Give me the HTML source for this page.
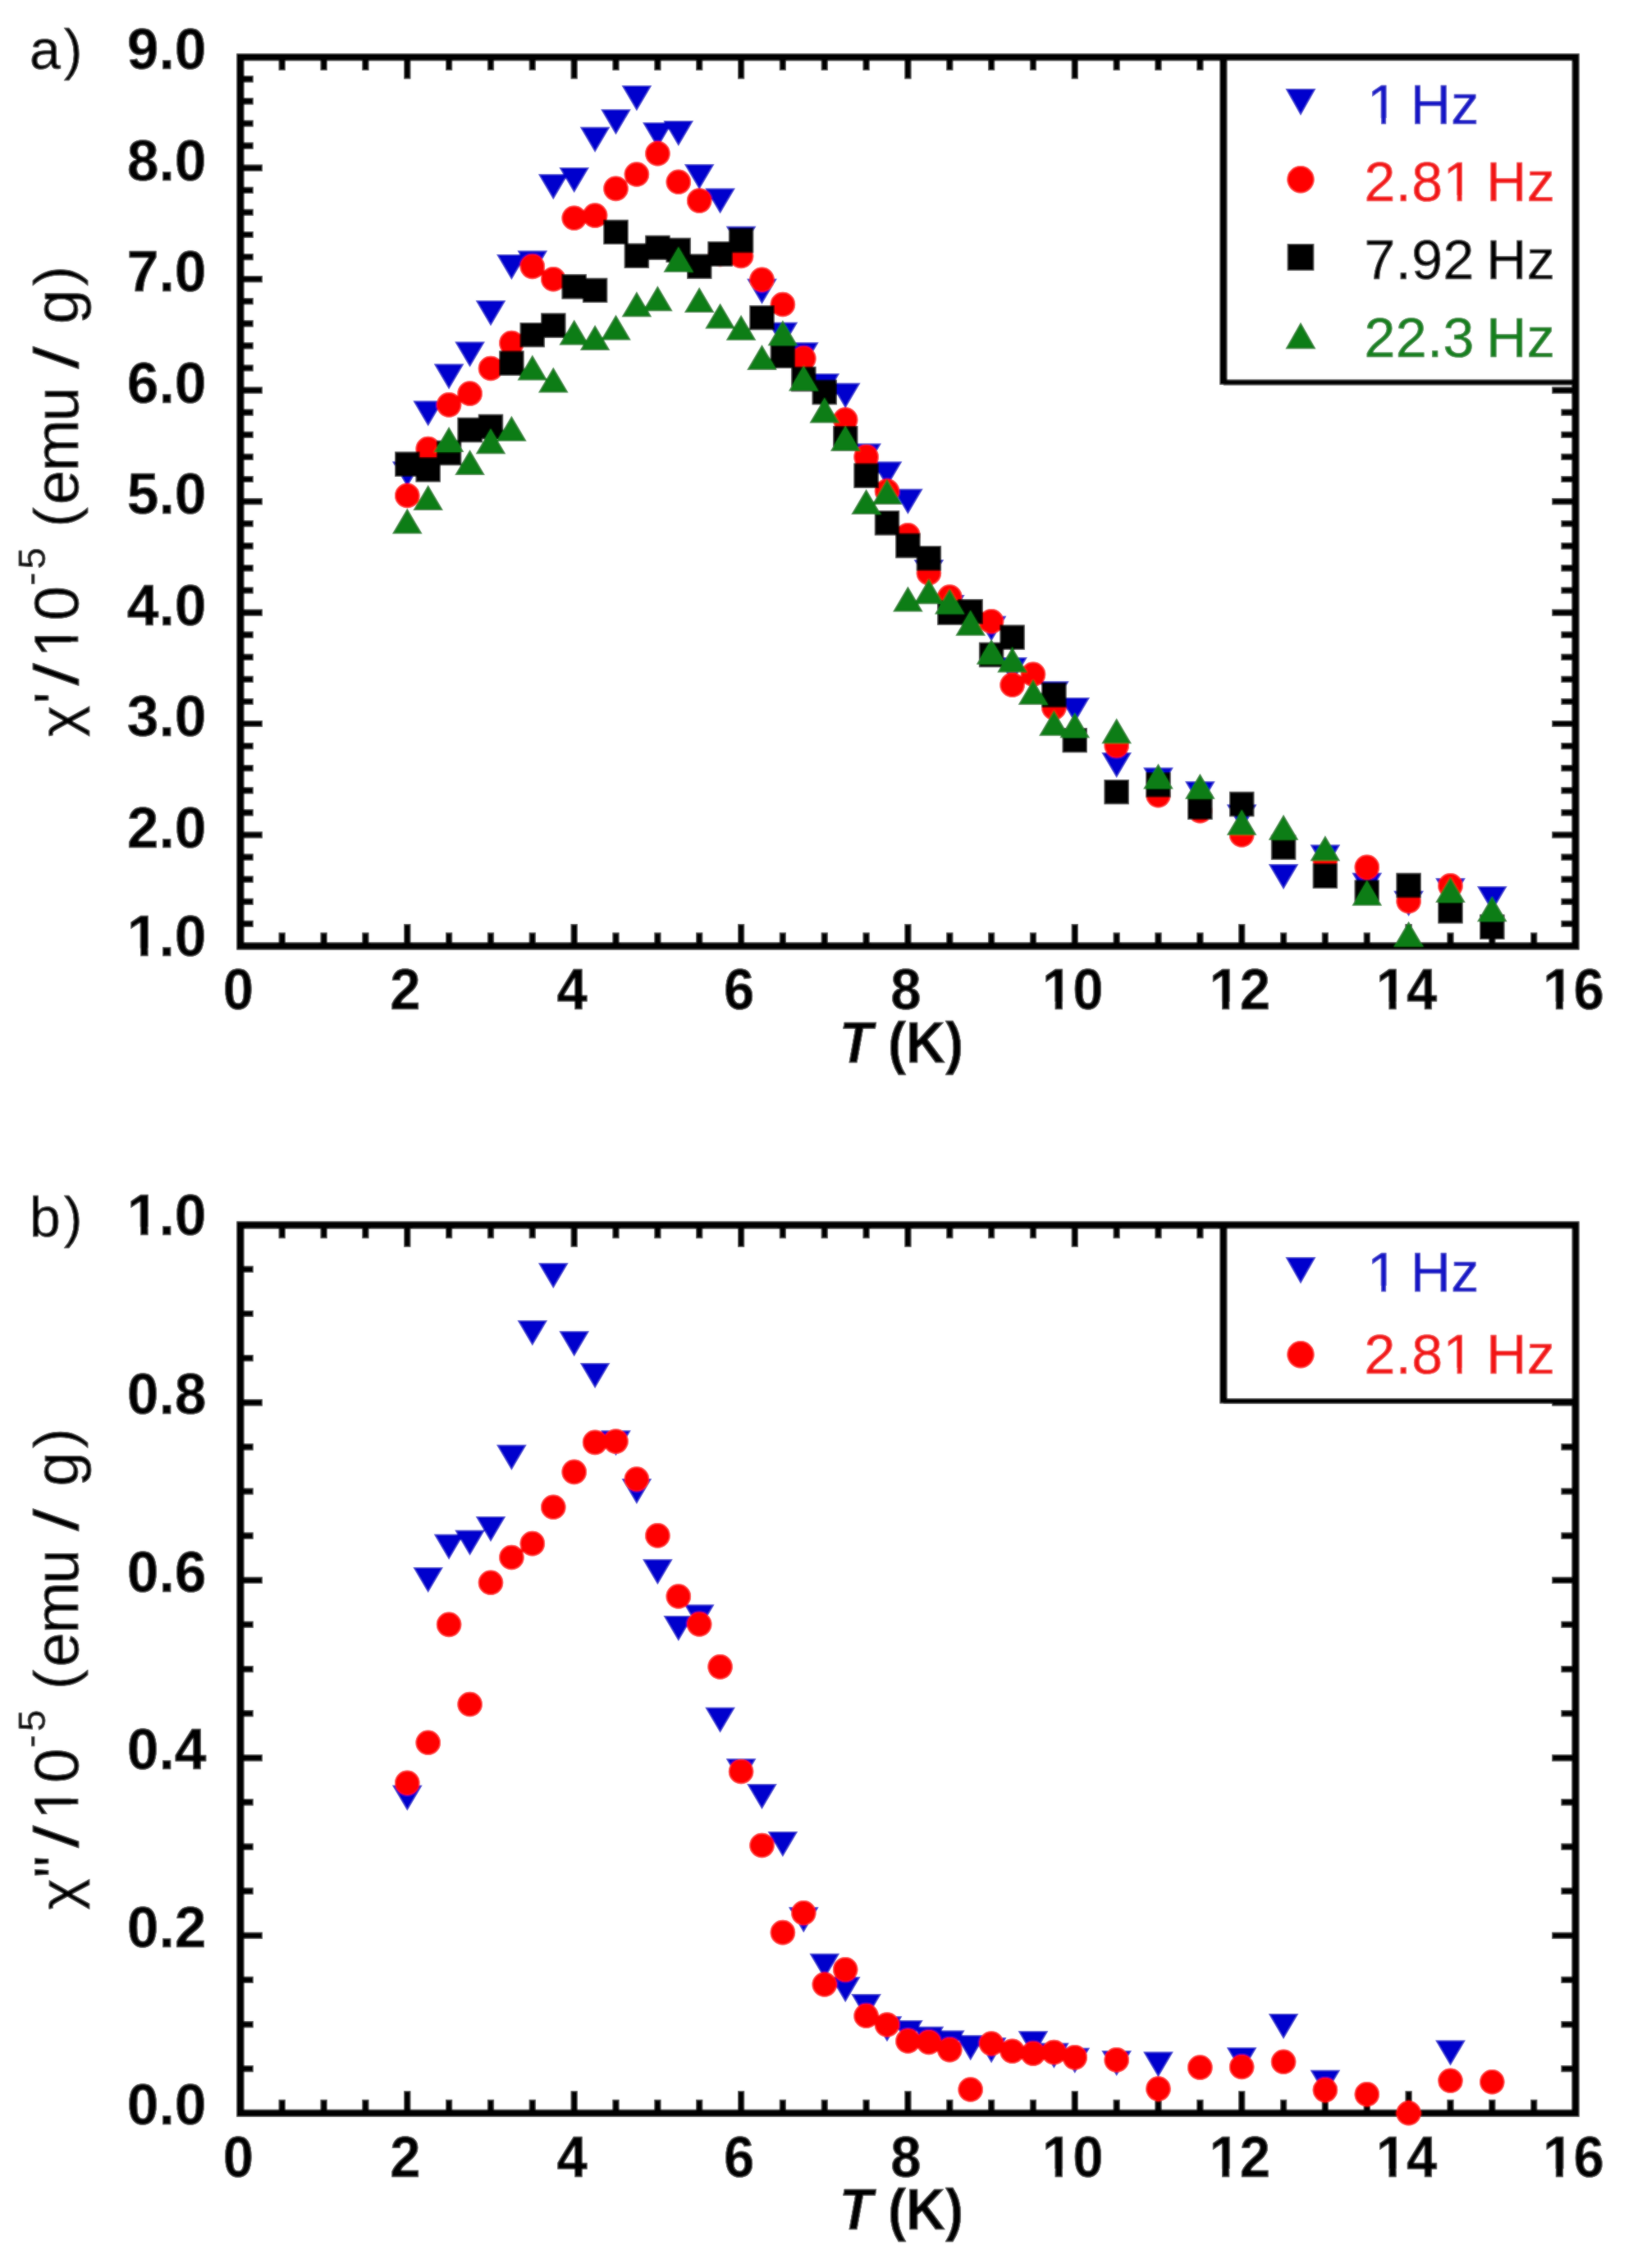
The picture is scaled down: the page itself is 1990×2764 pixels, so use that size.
<!DOCTYPE html>
<html lang="en">
<head>
<meta charset="utf-8">
<title>AC susceptibility versus temperature</title>
<style>
html,body{margin:0;padding:0;background:#fff}
svg{display:block}
text{font-family:"Liberation Sans",sans-serif;font-size:68px;fill:#000;font-kerning:none;stroke:#000;stroke-width:.7px;stroke-linejoin:round}
.m{fill:#fff}
.lt{letter-spacing:.5px;word-spacing:-5px}
.b{font-weight:bold;font-size:71px;stroke-width:.5px}
.yl{font-size:76px}
.tk{stroke:#000;stroke-width:8.2;fill:none}
.fr{stroke:#000;stroke-width:8.9;fill:none}
.lg{stroke:#000;stroke-width:9.2;fill:none}
.lg2{stroke:#000;stroke-width:6.8;fill:none}
</style>
</head>
<body>
<svg width="1990" height="2764" viewBox="0 0 1990 2764">
<defs><filter id="soft" x="0" y="0" width="1990" height="2764" filterUnits="userSpaceOnUse"><feGaussianBlur stdDeviation="0.85" result="b"/><feComposite in="SourceGraphic" in2="b" operator="arithmetic" k1="0" k2="0.55" k3="0.45" k4="0"/></filter></defs>
<g filter="url(#soft)">
<rect width="1990" height="2764" fill="#fff"/>
<g id="plot-a">
<path class="tk" d="M343.7 69.2v16.5M343.7 1153v-16.5M394.6 69.2v16.5M394.6 1153v-16.5M445.4 69.2v16.5M445.4 1153v-16.5M496.3 69.2v27M496.3 1153v-27M547.1 69.2v16.5M547.1 1153v-16.5M598 69.2v16.5M598 1153v-16.5M648.8 69.2v16.5M648.8 1153v-16.5M699.7 69.2v27M699.7 1153v-27M750.5 69.2v16.5M750.5 1153v-16.5M801.4 69.2v16.5M801.4 1153v-16.5M852.2 69.2v16.5M852.2 1153v-16.5M903.1 69.2v27M903.1 1153v-27M953.9 69.2v16.5M953.9 1153v-16.5M1004.8 69.2v16.5M1004.8 1153v-16.5M1055.6 69.2v16.5M1055.6 1153v-16.5M1106.4 69.2v27M1106.4 1153v-27M1157.3 69.2v16.5M1157.3 1153v-16.5M1208.1 69.2v16.5M1208.1 1153v-16.5M1259 69.2v16.5M1259 1153v-16.5M1309.8 69.2v27M1309.8 1153v-27M1360.7 69.2v16.5M1360.7 1153v-16.5M1411.5 69.2v16.5M1411.5 1153v-16.5M1462.4 69.2v16.5M1462.4 1153v-16.5M1513.2 69.2v27M1513.2 1153v-27M1564.1 69.2v16.5M1564.1 1153v-16.5M1614.9 69.2v16.5M1614.9 1153v-16.5M1665.8 69.2v16.5M1665.8 1153v-16.5M1716.6 69.2v27M1716.6 1153v-27M1767.5 69.2v16.5M1767.5 1153v-16.5M1818.3 69.2v16.5M1818.3 1153v-16.5M1869.2 69.2v16.5M1869.2 1153v-16.5M292.9 1125.9h15.8M1920 1125.9h-17.6M292.9 1098.8h15.8M1920 1098.8h-17.6M292.9 1071.7h15.8M1920 1071.7h-17.6M292.9 1044.6h15.8M1920 1044.6h-17.6M292.9 1017.5h27M1920 1017.5h-28.8M292.9 990.4h15.8M1920 990.4h-17.6M292.9 963.3h15.8M1920 963.3h-17.6M292.9 936.2h15.8M1920 936.2h-17.6M292.9 909.1h15.8M1920 909.1h-17.6M292.9 882h27M1920 882h-28.8M292.9 855h15.8M1920 855h-17.6M292.9 827.9h15.8M1920 827.9h-17.6M292.9 800.8h15.8M1920 800.8h-17.6M292.9 773.7h15.8M1920 773.7h-17.6M292.9 746.6h27M1920 746.6h-28.8M292.9 719.5h15.8M1920 719.5h-17.6M292.9 692.4h15.8M1920 692.4h-17.6M292.9 665.3h15.8M1920 665.3h-17.6M292.9 638.2h15.8M1920 638.2h-17.6M292.9 611.1h27M1920 611.1h-28.8M292.9 584h15.8M1920 584h-17.6M292.9 556.9h15.8M1920 556.9h-17.6M292.9 529.8h15.8M1920 529.8h-17.6M292.9 502.7h15.8M1920 502.7h-17.6M292.9 475.6h27M1920 475.6h-28.8M292.9 448.5h15.8M1920 448.5h-17.6M292.9 421.4h15.8M1920 421.4h-17.6M292.9 394.3h15.8M1920 394.3h-17.6M292.9 367.2h15.8M1920 367.2h-17.6M292.9 340.1h27M1920 340.1h-28.8M292.9 313.1h15.8M1920 313.1h-17.6M292.9 286h15.8M1920 286h-17.6M292.9 258.9h15.8M1920 258.9h-17.6M292.9 231.8h15.8M1920 231.8h-17.6M292.9 204.7h27M1920 204.7h-28.8M292.9 177.6h15.8M1920 177.6h-17.6M292.9 150.5h15.8M1920 150.5h-17.6M292.9 123.4h15.8M1920 123.4h-17.6M292.9 96.3h15.8M1920 96.3h-17.6"/>
<rect class="fr" x="292.9" y="69.7" width="1627.1" height="1083.3"/>
<rect fill="#fff" x="1490.9" y="69.7" width="429.1" height="396.3"/>
<path class="lg" d="M1490.9 69.7V469.1"/><path class="lg2" d="M1490.9 466H1920"/>
<rect class="fr" x="292.9" y="69.7" width="1627.1" height="1083.3"/>
<path fill="#0000cd" d="M478 562.5h36.6l-18.3 31zM503.4 488.5h36.6l-18.3 31zM528.8 443.5h36.6l-18.3 31zM554.3 416.5h36.6l-18.3 31zM579.7 366.3h36.6l-18.3 31zM605.1 310h36.6l-18.3 31zM630.5 305.4h36.6l-18.3 31zM656 212.3h36.6l-18.3 31zM681.4 204h36.6l-18.3 31zM706.8 154.7h36.6l-18.3 31zM732.2 133.3h36.6l-18.3 31zM757.6 104.2h36.6l-18.3 31zM783.1 149.2h36.6l-18.3 31zM808.5 147.1h36.6l-18.3 31zM833.9 200h36.6l-18.3 31zM859.3 229.4h36.6l-18.3 31zM884.8 275.8h36.6l-18.3 31zM910.2 339.8h36.6l-18.3 31zM935.6 392.7h36.6l-18.3 31zM961 417.2h36.6l-18.3 31zM986.5 455.2h36.6l-18.3 31zM1011.9 466.7h36.6l-18.3 31zM1037.3 540.4h36.6l-18.3 31zM1062.7 562.4h36.6l-18.3 31zM1088.1 595.8h36.6l-18.3 31zM1113.6 682.1h36.6l-18.3 31zM1139 724.9h36.6l-18.3 31zM1189.8 750.7h36.6l-18.3 31zM1215.3 800.9h36.6l-18.3 31zM1266.1 830.3h36.6l-18.3 31zM1291.5 849.9h36.6l-18.3 31zM1342.4 916.9h36.6l-18.3 31zM1393.2 935.6h36.6l-18.3 31zM1444.1 952.3h36.6l-18.3 31zM1494.9 980.4h36.6l-18.3 31zM1545.8 1053h36.6l-18.3 31zM1596.6 1029.4h36.6l-18.3 31zM1647.5 1063.7h36.6l-18.3 31zM1698.3 1085.8h36.6l-18.3 31zM1749.2 1070.2h36.6l-18.3 31zM1800 1080h36.6l-18.3 31z"/>
<path fill="#ff0505" d="M481 604a15.3 15.3 0 1 0 30.6 0a15.3 15.3 0 1 0 -30.6 0zM506.4 547a15.3 15.3 0 1 0 30.6 0a15.3 15.3 0 1 0 -30.6 0zM531.8 493.3a15.3 15.3 0 1 0 30.6 0a15.3 15.3 0 1 0 -30.6 0zM557.3 479.7a15.3 15.3 0 1 0 30.6 0a15.3 15.3 0 1 0 -30.6 0zM582.7 449a15.3 15.3 0 1 0 30.6 0a15.3 15.3 0 1 0 -30.6 0zM608.1 418.2a15.3 15.3 0 1 0 30.6 0a15.3 15.3 0 1 0 -30.6 0zM633.5 324.8a15.3 15.3 0 1 0 30.6 0a15.3 15.3 0 1 0 -30.6 0zM659 340.2a15.3 15.3 0 1 0 30.6 0a15.3 15.3 0 1 0 -30.6 0zM684.4 265.8a15.3 15.3 0 1 0 30.6 0a15.3 15.3 0 1 0 -30.6 0zM709.8 262.7a15.3 15.3 0 1 0 30.6 0a15.3 15.3 0 1 0 -30.6 0zM735.2 229.9a15.3 15.3 0 1 0 30.6 0a15.3 15.3 0 1 0 -30.6 0zM760.6 212.5a15.3 15.3 0 1 0 30.6 0a15.3 15.3 0 1 0 -30.6 0zM786.1 187.1a15.3 15.3 0 1 0 30.6 0a15.3 15.3 0 1 0 -30.6 0zM811.5 221.7a15.3 15.3 0 1 0 30.6 0a15.3 15.3 0 1 0 -30.6 0zM836.9 244.6a15.3 15.3 0 1 0 30.6 0a15.3 15.3 0 1 0 -30.6 0zM862.3 310a15.3 15.3 0 1 0 30.6 0a15.3 15.3 0 1 0 -30.6 0zM887.8 312a15.3 15.3 0 1 0 30.6 0a15.3 15.3 0 1 0 -30.6 0zM913.2 340.8a15.3 15.3 0 1 0 30.6 0a15.3 15.3 0 1 0 -30.6 0zM938.6 371a15.3 15.3 0 1 0 30.6 0a15.3 15.3 0 1 0 -30.6 0zM964 436.9a15.3 15.3 0 1 0 30.6 0a15.3 15.3 0 1 0 -30.6 0zM1014.9 511.6a15.3 15.3 0 1 0 30.6 0a15.3 15.3 0 1 0 -30.6 0zM1040.3 556.9a15.3 15.3 0 1 0 30.6 0a15.3 15.3 0 1 0 -30.6 0zM1065.7 598.5a15.3 15.3 0 1 0 30.6 0a15.3 15.3 0 1 0 -30.6 0zM1091.1 652.2a15.3 15.3 0 1 0 30.6 0a15.3 15.3 0 1 0 -30.6 0zM1116.6 698.3a15.3 15.3 0 1 0 30.6 0a15.3 15.3 0 1 0 -30.6 0zM1142 727.5a15.3 15.3 0 1 0 30.6 0a15.3 15.3 0 1 0 -30.6 0zM1192.8 757.3a15.3 15.3 0 1 0 30.6 0a15.3 15.3 0 1 0 -30.6 0zM1218.3 834.7a15.3 15.3 0 1 0 30.6 0a15.3 15.3 0 1 0 -30.6 0zM1243.7 821.8a15.3 15.3 0 1 0 30.6 0a15.3 15.3 0 1 0 -30.6 0zM1269.1 862.4a15.3 15.3 0 1 0 30.6 0a15.3 15.3 0 1 0 -30.6 0zM1345.4 908.4a15.3 15.3 0 1 0 30.6 0a15.3 15.3 0 1 0 -30.6 0zM1396.2 969.1a15.3 15.3 0 1 0 30.6 0a15.3 15.3 0 1 0 -30.6 0zM1447.1 988.1a15.3 15.3 0 1 0 30.6 0a15.3 15.3 0 1 0 -30.6 0zM1497.9 1017.5a15.3 15.3 0 1 0 30.6 0a15.3 15.3 0 1 0 -30.6 0zM1599.6 1049a15.3 15.3 0 1 0 30.6 0a15.3 15.3 0 1 0 -30.6 0zM1650.5 1056.9a15.3 15.3 0 1 0 30.6 0a15.3 15.3 0 1 0 -30.6 0zM1701.3 1098.3a15.3 15.3 0 1 0 30.6 0a15.3 15.3 0 1 0 -30.6 0zM1752.2 1079.4a15.3 15.3 0 1 0 30.6 0a15.3 15.3 0 1 0 -30.6 0z"/>
<path fill="#000" d="M481.1 550.6h30.4v30.4h-30.4zM506.5 557.1h30.4v30.4h-30.4zM531.9 536.8h30.4v30.4h-30.4zM557.4 508.8h30.4v30.4h-30.4zM582.8 504.8h30.4v30.4h-30.4zM608.2 427.5h30.4v30.4h-30.4zM633.6 392.9h30.4v30.4h-30.4zM659.1 381.6h30.4v30.4h-30.4zM684.5 334.1h30.4v30.4h-30.4zM709.9 338.7h30.4v30.4h-30.4zM735.3 267.7h30.4v30.4h-30.4zM760.7 296.5h30.4v30.4h-30.4zM786.2 286.7h30.4v30.4h-30.4zM811.6 289.7h30.4v30.4h-30.4zM837 309.6h30.4v30.4h-30.4zM862.4 294.3h30.4v30.4h-30.4zM887.9 277.8h30.4v30.4h-30.4zM913.3 371.9h30.4v30.4h-30.4zM938.7 418.7h30.4v30.4h-30.4zM964.1 446.8h30.4v30.4h-30.4zM989.6 462.8h30.4v30.4h-30.4zM1015 519.1h30.4v30.4h-30.4zM1040.4 564.5h30.4v30.4h-30.4zM1065.8 622.2h30.4v30.4h-30.4zM1091.2 649.8h30.4v30.4h-30.4zM1116.7 665.2h30.4v30.4h-30.4zM1142.1 731.4h30.4v30.4h-30.4zM1167.5 730.1h30.4v30.4h-30.4zM1192.9 782.8h30.4v30.4h-30.4zM1218.4 761.5h30.4v30.4h-30.4zM1269.2 831.8h30.4v30.4h-30.4zM1294.6 886.9h30.4v30.4h-30.4zM1345.5 949.9h30.4v30.4h-30.4zM1396.3 941.2h30.4v30.4h-30.4zM1447.2 968.5h30.4v30.4h-30.4zM1498 964.8h30.4v30.4h-30.4zM1548.9 1017.5h30.4v30.4h-30.4zM1599.7 1052.3h30.4v30.4h-30.4zM1650.6 1072.6h30.4v30.4h-30.4zM1701.4 1063.8h30.4v30.4h-30.4zM1752.3 1095h30.4v30.4h-30.4zM1803.1 1114.6h30.4v30.4h-30.4z"/>
<path fill="#0a7d16" d="M478 650.6h36.6l-18.3 -31zM503.4 622.1h36.6l-18.3 -31zM528.8 551h36.6l-18.3 -31zM554.3 579.1h36.6l-18.3 -31zM579.7 553.2h36.6l-18.3 -31zM605.1 537.7h36.6l-18.3 -31zM630.5 463.5h36.6l-18.3 -31zM656 478.5h36.6l-18.3 -31zM681.4 420.6h36.6l-18.3 -31zM706.8 427h36.6l-18.3 -31zM732.2 414.4h36.6l-18.3 -31zM757.6 386.3h36.6l-18.3 -31zM783.1 379.2h36.6l-18.3 -31zM808.5 331.8h36.6l-18.3 -31zM833.9 381.1h36.6l-18.3 -31zM859.3 400.4h36.6l-18.3 -31zM884.8 414.8h36.6l-18.3 -31zM910.2 451.1h36.6l-18.3 -31zM935.6 421.2h36.6l-18.3 -31zM961 476.4h36.6l-18.3 -31zM986.5 515.5h36.6l-18.3 -31zM1011.9 549.8h36.6l-18.3 -31zM1037.3 627.1h36.6l-18.3 -31zM1062.7 614.9h36.6l-18.3 -31zM1088.1 745.5h36.6l-18.3 -31zM1113.6 736.3h36.6l-18.3 -31zM1139 748.6h36.6l-18.3 -31zM1164.4 774.8h36.6l-18.3 -31zM1189.8 809.8h36.6l-18.3 -31zM1215.3 819.6h36.6l-18.3 -31zM1240.7 859.1h36.6l-18.3 -31zM1266.1 896.8h36.6l-18.3 -31zM1291.5 899.2h36.6l-18.3 -31zM1342.4 906.3h36.6l-18.3 -31zM1393.2 961.5h36.6l-18.3 -31zM1444.1 973.7h36.6l-18.3 -31zM1494.9 1017.8h36.6l-18.3 -31zM1545.8 1023.7h36.6l-18.3 -31zM1596.6 1049.2h36.6l-18.3 -31zM1647.5 1103.8h36.6l-18.3 -31zM1698.3 1153.7h36.6l-18.3 -31zM1749.2 1100h36.6l-18.3 -31zM1800 1123.3h36.6l-18.3 -31z"/>
<path fill="#0000cd" d="M1566.5 108.1h37l-18.5 32.6z"/>
<g transform="translate(1666 151.4)"><text class="lt" style="fill:#1212c6;stroke:#1212c6">1 Hz</text><g class="m"><rect x="2.86" y="-7.4" width="14.24" height="9.4"/><rect x="23.11" y="-7.4" width="13.71" height="9.4"/></g></g>
<path fill="#ff0505" d="M1568.3 218.7a16.7 16.7 0 1 0 33.4 0a16.7 16.7 0 1 0 -33.4 0z"/>
<g transform="translate(1662.5 245.4)"><text class="lt" style="fill:#f21616;stroke:#f21616">2.81 Hz</text><g class="m"><rect x="98.88" y="-7.4" width="14.24" height="9.4"/><rect x="119.14" y="-7.4" width="13.71" height="9.4"/></g></g>
<path fill="#000" d="M1568.7 297.1h32.6v32.6h-32.6z"/>
<g transform="translate(1662.5 339.9)"><text class="lt" style="fill:#000;stroke:#000">7.92 Hz</text><g class="m"></g></g>
<path fill="#0a7d16" d="M1566.5 425.3h37l-18.5 -32.6z"/>
<g transform="translate(1662.5 434.7)"><text class="lt" style="fill:#12801e;stroke:#12801e">22.3 Hz</text><g class="m"></g></g>
<g transform="translate(251.5 1165.1) scale(.98 1)"><text class="b" text-anchor="end">1.0</text><g class="m"><rect x="-96.65" y="-9.67" width="14.53" height="11.67"/><rect x="-72.39" y="-9.67" width="13.62" height="11.67"/></g></g>
<g transform="translate(251.5 1032.5) scale(.98 1)"><text class="b" text-anchor="end">2.0</text></g>
<g transform="translate(251.5 897) scale(.98 1)"><text class="b" text-anchor="end">3.0</text></g>
<g transform="translate(251.5 761.6) scale(.98 1)"><text class="b" text-anchor="end">4.0</text></g>
<g transform="translate(251.5 626.1) scale(.98 1)"><text class="b" text-anchor="end">5.0</text></g>
<g transform="translate(251.5 490.6) scale(.98 1)"><text class="b" text-anchor="end">6.0</text></g>
<g transform="translate(251.5 355.1) scale(.98 1)"><text class="b" text-anchor="end">7.0</text></g>
<g transform="translate(251.5 219.7) scale(.98 1)"><text class="b" text-anchor="end">8.0</text></g>
<g transform="translate(251.5 83.5) scale(.98 1)"><text class="b" text-anchor="end">9.0</text></g>
<g transform="translate(290.4 1230.4) scale(.945 1)"><text class="b" text-anchor="middle">0</text></g>
<g transform="translate(493.8 1230.4) scale(.945 1)"><text class="b" text-anchor="middle">2</text></g>
<g transform="translate(697.2 1230.4) scale(.945 1)"><text class="b" text-anchor="middle">4</text></g>
<g transform="translate(900.6 1230.4) scale(.945 1)"><text class="b" text-anchor="middle">6</text></g>
<g transform="translate(1103.9 1230.4) scale(.945 1)"><text class="b" text-anchor="middle">8</text></g>
<g transform="translate(1307.3 1230.4) scale(.945 1)"><text class="b" text-anchor="middle">10</text><g class="m"><rect x="-37.44" y="-9.67" width="14.53" height="11.67"/><rect x="-13.17" y="-9.67" width="13.62" height="11.67"/></g></g>
<g transform="translate(1510.7 1230.4) scale(.945 1)"><text class="b" text-anchor="middle">12</text><g class="m"><rect x="-37.44" y="-9.67" width="14.53" height="11.67"/><rect x="-13.17" y="-9.67" width="13.62" height="11.67"/></g></g>
<g transform="translate(1714.1 1230.4) scale(.945 1)"><text class="b" text-anchor="middle">14</text><g class="m"><rect x="-37.44" y="-9.67" width="14.53" height="11.67"/><rect x="-13.17" y="-9.67" width="13.62" height="11.67"/></g></g>
<g transform="translate(1917.5 1230.4) scale(.945 1)"><text class="b" text-anchor="middle">16</text><g class="m"><rect x="-37.44" y="-9.67" width="14.53" height="11.67"/><rect x="-13.17" y="-9.67" width="13.62" height="11.67"/></g></g>
<text class="b" transform="translate(1098.5 1294.8) scale(.936 1)" text-anchor="middle"><tspan font-style="italic">T</tspan> (K)</text>
<text x="36" y="83.7">a<tspan dx="4">)</tspan></text>
<g transform="rotate(-90)"><text class="yl"><tspan x="-898" y="95.2" font-size="66" textLength="38.1" lengthAdjust="spacingAndGlyphs">χ</tspan><tspan x="-857.8" y="94.6">&#39;</tspan><tspan x="-835.6" y="94.6" textLength="27.4" lengthAdjust="spacingAndGlyphs">/</tspan><tspan x="-801.4" y="94.6">1</tspan><tspan x="-756.4" y="94.6">0</tspan><tspan x="-713.6" y="53" font-size="47">-</tspan><tspan x="-693.6" y="54.5" font-size="47">5</tspan><tspan x="-667.4" y="94.6"> </tspan><tspan x="-642.4" y="92" font-size="73">(</tspan><tspan x="-615.3" y="94.6">e</tspan><tspan x="-574.4" y="94.6">m</tspan><tspan x="-513.7" y="94.6">u</tspan><tspan x="-471.5" y="94.6"> </tspan><tspan x="-449.4" y="94.6" textLength="27.4" lengthAdjust="spacingAndGlyphs">/</tspan><tspan x="-428.3" y="94.6"> </tspan><tspan x="-394.9" y="94.6">g</tspan><tspan x="-348.6" y="92" font-size="73">)</tspan></text><g class="m"><rect x="-798.18" y="86.32" width="15.92" height="10.28"/><rect x="-775.54" y="86.32" width="15.33" height="10.28"/></g></g>
</g>
<g id="plot-b">
<path class="tk" d="M343.7 1492.8v16.5M343.7 2575.3v-16.5M394.6 1492.8v16.5M394.6 2575.3v-16.5M445.4 1492.8v16.5M445.4 2575.3v-16.5M496.3 1492.8v27M496.3 2575.3v-27M547.1 1492.8v16.5M547.1 2575.3v-16.5M598 1492.8v16.5M598 2575.3v-16.5M648.8 1492.8v16.5M648.8 2575.3v-16.5M699.7 1492.8v27M699.7 2575.3v-27M750.5 1492.8v16.5M750.5 2575.3v-16.5M801.4 1492.8v16.5M801.4 2575.3v-16.5M852.2 1492.8v16.5M852.2 2575.3v-16.5M903.1 1492.8v27M903.1 2575.3v-27M953.9 1492.8v16.5M953.9 2575.3v-16.5M1004.8 1492.8v16.5M1004.8 2575.3v-16.5M1055.6 1492.8v16.5M1055.6 2575.3v-16.5M1106.4 1492.8v27M1106.4 2575.3v-27M1157.3 1492.8v16.5M1157.3 2575.3v-16.5M1208.1 1492.8v16.5M1208.1 2575.3v-16.5M1259 1492.8v16.5M1259 2575.3v-16.5M1309.8 1492.8v27M1309.8 2575.3v-27M1360.7 1492.8v16.5M1360.7 2575.3v-16.5M1411.5 1492.8v16.5M1411.5 2575.3v-16.5M1462.4 1492.8v16.5M1462.4 2575.3v-16.5M1513.2 1492.8v27M1513.2 2575.3v-27M1564.1 1492.8v16.5M1564.1 2575.3v-16.5M1614.9 1492.8v16.5M1614.9 2575.3v-16.5M1665.8 1492.8v16.5M1665.8 2575.3v-16.5M1716.6 1492.8v27M1716.6 2575.3v-27M1767.5 1492.8v16.5M1767.5 2575.3v-16.5M1818.3 1492.8v16.5M1818.3 2575.3v-16.5M1869.2 1492.8v16.5M1869.2 2575.3v-16.5M292.9 2521.2h15.8M1920 2521.2h-17.6M292.9 2467.1h15.8M1920 2467.1h-17.6M292.9 2412.9h15.8M1920 2412.9h-17.6M292.9 2358.8h27M1920 2358.8h-28.8M292.9 2304.7h15.8M1920 2304.7h-17.6M292.9 2250.6h15.8M1920 2250.6h-17.6M292.9 2196.4h15.8M1920 2196.4h-17.6M292.9 2142.3h27M1920 2142.3h-28.8M292.9 2088.2h15.8M1920 2088.2h-17.6M292.9 2034.1h15.8M1920 2034.1h-17.6M292.9 1979.9h15.8M1920 1979.9h-17.6M292.9 1925.8h27M1920 1925.8h-28.8M292.9 1871.7h15.8M1920 1871.7h-17.6M292.9 1817.5h15.8M1920 1817.5h-17.6M292.9 1763.4h15.8M1920 1763.4h-17.6M292.9 1709.3h27M1920 1709.3h-28.8M292.9 1655.2h15.8M1920 1655.2h-17.6M292.9 1601h15.8M1920 1601h-17.6M292.9 1546.9h15.8M1920 1546.9h-17.6"/>
<rect class="fr" x="292.9" y="1493" width="1627.1" height="1082.3"/>
<rect fill="#fff" x="1490.9" y="1493" width="429.1" height="214.5"/>
<path class="lg" d="M1490.9 1493V1710.6"/><path class="lg2" d="M1490.9 1707.5H1920"/>
<rect class="fr" x="292.9" y="1493" width="1627.1" height="1082.3"/>
<path fill="#0000cd" d="M478 2175.7h36.6l-18.3 31zM503.4 1910.1h36.6l-18.3 31zM528.8 1869.7h36.6l-18.3 31zM554.3 1864.8h36.6l-18.3 31zM579.7 1847.9h36.6l-18.3 31zM605.1 1760.7h36.6l-18.3 31zM630.5 1609.1h36.6l-18.3 31zM656 1539.3h36.6l-18.3 31zM681.4 1622.3h36.6l-18.3 31zM706.8 1660.9h36.6l-18.3 31zM732.2 1743.2h36.6l-18.3 31zM757.6 1802h36.6l-18.3 31zM783.1 1900.3h36.6l-18.3 31zM808.5 1968.9h36.6l-18.3 31zM833.9 1955.4h36.6l-18.3 31zM859.3 2080.8h36.6l-18.3 31zM884.8 2143.3h36.6l-18.3 31zM910.2 2174h36.6l-18.3 31zM935.6 2231.9h36.6l-18.3 31zM961 2324.3h36.6l-18.3 31zM986.5 2380.7h36.6l-18.3 31zM1011.9 2409.2h36.6l-18.3 31zM1037.3 2430h36.6l-18.3 31zM1062.7 2457.2h36.6l-18.3 31zM1088.1 2462.1h36.6l-18.3 31zM1113.6 2469.8h36.6l-18.3 31zM1139 2474.4h36.6l-18.3 31zM1164.4 2480.2h36.6l-18.3 31zM1189.8 2483.3h36.6l-18.3 31zM1240.7 2475.3h36.6l-18.3 31zM1266.1 2489.7h36.6l-18.3 31zM1291.5 2495.8h36.6l-18.3 31zM1342.4 2498.9h36.6l-18.3 31zM1393.2 2500.4h36.6l-18.3 31zM1494.9 2495.2h36.6l-18.3 31zM1545.8 2453.9h36.6l-18.3 31zM1596.6 2522.7h36.6l-18.3 31zM1749.2 2486.6h36.6l-18.3 31z"/>
<path fill="#ff0505" d="M481 2172.8a15.3 15.3 0 1 0 30.6 0a15.3 15.3 0 1 0 -30.6 0zM506.4 2123.8a15.3 15.3 0 1 0 30.6 0a15.3 15.3 0 1 0 -30.6 0zM531.8 1979.8a15.3 15.3 0 1 0 30.6 0a15.3 15.3 0 1 0 -30.6 0zM557.3 2077a15.3 15.3 0 1 0 30.6 0a15.3 15.3 0 1 0 -30.6 0zM582.7 1928.7a15.3 15.3 0 1 0 30.6 0a15.3 15.3 0 1 0 -30.6 0zM608.1 1898a15.3 15.3 0 1 0 30.6 0a15.3 15.3 0 1 0 -30.6 0zM633.5 1881.2a15.3 15.3 0 1 0 30.6 0a15.3 15.3 0 1 0 -30.6 0zM659 1836.8a15.3 15.3 0 1 0 30.6 0a15.3 15.3 0 1 0 -30.6 0zM684.4 1793.9a15.3 15.3 0 1 0 30.6 0a15.3 15.3 0 1 0 -30.6 0zM709.8 1757.8a15.3 15.3 0 1 0 30.6 0a15.3 15.3 0 1 0 -30.6 0zM735.2 1756.6a15.3 15.3 0 1 0 30.6 0a15.3 15.3 0 1 0 -30.6 0zM760.6 1802.5a15.3 15.3 0 1 0 30.6 0a15.3 15.3 0 1 0 -30.6 0zM786.1 1871.4a15.3 15.3 0 1 0 30.6 0a15.3 15.3 0 1 0 -30.6 0zM811.5 1945.5a15.3 15.3 0 1 0 30.6 0a15.3 15.3 0 1 0 -30.6 0zM836.9 1979.5a15.3 15.3 0 1 0 30.6 0a15.3 15.3 0 1 0 -30.6 0zM862.3 2031.3a15.3 15.3 0 1 0 30.6 0a15.3 15.3 0 1 0 -30.6 0zM887.8 2159a15.3 15.3 0 1 0 30.6 0a15.3 15.3 0 1 0 -30.6 0zM913.2 2249a15.3 15.3 0 1 0 30.6 0a15.3 15.3 0 1 0 -30.6 0zM938.6 2355.1a15.3 15.3 0 1 0 30.6 0a15.3 15.3 0 1 0 -30.6 0zM964 2331.3a15.3 15.3 0 1 0 30.6 0a15.3 15.3 0 1 0 -30.6 0zM989.5 2418.5a15.3 15.3 0 1 0 30.6 0a15.3 15.3 0 1 0 -30.6 0zM1014.9 2400.2a15.3 15.3 0 1 0 30.6 0a15.3 15.3 0 1 0 -30.6 0zM1040.3 2456.8a15.3 15.3 0 1 0 30.6 0a15.3 15.3 0 1 0 -30.6 0zM1065.7 2467.5a15.3 15.3 0 1 0 30.6 0a15.3 15.3 0 1 0 -30.6 0zM1091.1 2487.4a15.3 15.3 0 1 0 30.6 0a15.3 15.3 0 1 0 -30.6 0zM1116.6 2489a15.3 15.3 0 1 0 30.6 0a15.3 15.3 0 1 0 -30.6 0zM1142 2498.1a15.3 15.3 0 1 0 30.6 0a15.3 15.3 0 1 0 -30.6 0zM1167.4 2546.5a15.3 15.3 0 1 0 30.6 0a15.3 15.3 0 1 0 -30.6 0zM1192.8 2490.5a15.3 15.3 0 1 0 30.6 0a15.3 15.3 0 1 0 -30.6 0zM1218.3 2499.7a15.3 15.3 0 1 0 30.6 0a15.3 15.3 0 1 0 -30.6 0zM1243.7 2502.7a15.3 15.3 0 1 0 30.6 0a15.3 15.3 0 1 0 -30.6 0zM1269.1 2501.2a15.3 15.3 0 1 0 30.6 0a15.3 15.3 0 1 0 -30.6 0zM1294.5 2507.3a15.3 15.3 0 1 0 30.6 0a15.3 15.3 0 1 0 -30.6 0zM1345.4 2510.4a15.3 15.3 0 1 0 30.6 0a15.3 15.3 0 1 0 -30.6 0zM1396.2 2545.6a15.3 15.3 0 1 0 30.6 0a15.3 15.3 0 1 0 -30.6 0zM1447.1 2519.6a15.3 15.3 0 1 0 30.6 0a15.3 15.3 0 1 0 -30.6 0zM1497.9 2519a15.3 15.3 0 1 0 30.6 0a15.3 15.3 0 1 0 -30.6 0zM1548.8 2512.8a15.3 15.3 0 1 0 30.6 0a15.3 15.3 0 1 0 -30.6 0zM1599.6 2547.1a15.3 15.3 0 1 0 30.6 0a15.3 15.3 0 1 0 -30.6 0zM1650.5 2552.3a15.3 15.3 0 1 0 30.6 0a15.3 15.3 0 1 0 -30.6 0zM1701.3 2575.3a15.3 15.3 0 1 0 30.6 0a15.3 15.3 0 1 0 -30.6 0zM1752.2 2535.8a15.3 15.3 0 1 0 30.6 0a15.3 15.3 0 1 0 -30.6 0zM1803 2537.3a15.3 15.3 0 1 0 30.6 0a15.3 15.3 0 1 0 -30.6 0z"/>
<path fill="#0000cd" d="M1566.5 1531.9h37l-18.5 32.6z"/>
<g transform="translate(1666 1574.3)"><text class="lt" style="fill:#1212c6;stroke:#1212c6">1 Hz</text><g class="m"><rect x="2.86" y="-7.4" width="14.24" height="9.4"/><rect x="23.11" y="-7.4" width="13.71" height="9.4"/></g></g>
<path fill="#ff0505" d="M1568.3 1650.7a16.7 16.7 0 1 0 33.4 0a16.7 16.7 0 1 0 -33.4 0z"/>
<g transform="translate(1662.5 1674.3)"><text class="lt" style="fill:#f21616;stroke:#f21616">2.81 Hz</text><g class="m"><rect x="98.88" y="-7.4" width="14.24" height="9.4"/><rect x="119.14" y="-7.4" width="13.71" height="9.4"/></g></g>
<g transform="translate(251.5 2588.9) scale(.98 1)"><text class="b" text-anchor="end">0.0</text></g>
<g transform="translate(251.5 2372.8) scale(.98 1)"><text class="b" text-anchor="end">0.2</text></g>
<g transform="translate(251.5 2156.3) scale(.98 1)"><text class="b" text-anchor="end">0.4</text></g>
<g transform="translate(251.5 1939.8) scale(.98 1)"><text class="b" text-anchor="end">0.6</text></g>
<g transform="translate(251.5 1723.3) scale(.98 1)"><text class="b" text-anchor="end">0.8</text></g>
<g transform="translate(251.5 1504.8) scale(.98 1)"><text class="b" text-anchor="end">1.0</text><g class="m"><rect x="-96.65" y="-9.67" width="14.53" height="11.67"/><rect x="-72.39" y="-9.67" width="13.62" height="11.67"/></g></g>
<g transform="translate(290.4 2652.7) scale(.945 1)"><text class="b" text-anchor="middle">0</text></g>
<g transform="translate(493.8 2652.7) scale(.945 1)"><text class="b" text-anchor="middle">2</text></g>
<g transform="translate(697.2 2652.7) scale(.945 1)"><text class="b" text-anchor="middle">4</text></g>
<g transform="translate(900.6 2652.7) scale(.945 1)"><text class="b" text-anchor="middle">6</text></g>
<g transform="translate(1103.9 2652.7) scale(.945 1)"><text class="b" text-anchor="middle">8</text></g>
<g transform="translate(1307.3 2652.7) scale(.945 1)"><text class="b" text-anchor="middle">10</text><g class="m"><rect x="-37.44" y="-9.67" width="14.53" height="11.67"/><rect x="-13.17" y="-9.67" width="13.62" height="11.67"/></g></g>
<g transform="translate(1510.7 2652.7) scale(.945 1)"><text class="b" text-anchor="middle">12</text><g class="m"><rect x="-37.44" y="-9.67" width="14.53" height="11.67"/><rect x="-13.17" y="-9.67" width="13.62" height="11.67"/></g></g>
<g transform="translate(1714.1 2652.7) scale(.945 1)"><text class="b" text-anchor="middle">14</text><g class="m"><rect x="-37.44" y="-9.67" width="14.53" height="11.67"/><rect x="-13.17" y="-9.67" width="13.62" height="11.67"/></g></g>
<g transform="translate(1917.5 2652.7) scale(.945 1)"><text class="b" text-anchor="middle">16</text><g class="m"><rect x="-37.44" y="-9.67" width="14.53" height="11.67"/><rect x="-13.17" y="-9.67" width="13.62" height="11.67"/></g></g>
<text class="b" transform="translate(1098.5 2717.1) scale(.936 1)" text-anchor="middle"><tspan font-style="italic">T</tspan> (K)</text>
<text x="36" y="1507.3">b<tspan dx="4">)</tspan></text>
<g transform="rotate(-90)"><text class="yl"><tspan x="-2327.6" y="95.2" font-size="66" textLength="38.1" lengthAdjust="spacingAndGlyphs">χ</tspan><tspan x="-2288.5" y="94.6">&quot;</tspan><tspan x="-2252.1" y="94.6" textLength="27.4" lengthAdjust="spacingAndGlyphs">/</tspan><tspan x="-2217.9" y="94.6">1</tspan><tspan x="-2172.9" y="94.6">0</tspan><tspan x="-2130.1" y="53" font-size="47">-</tspan><tspan x="-2110.1" y="54.5" font-size="47">5</tspan><tspan x="-2083.9" y="94.6"> </tspan><tspan x="-2058.9" y="92" font-size="73">(</tspan><tspan x="-2031.8" y="94.6">e</tspan><tspan x="-1990.9" y="94.6">m</tspan><tspan x="-1930.2" y="94.6">u</tspan><tspan x="-1888" y="94.6"> </tspan><tspan x="-1865.9" y="94.6" textLength="27.4" lengthAdjust="spacingAndGlyphs">/</tspan><tspan x="-1844.8" y="94.6"> </tspan><tspan x="-1811.4" y="94.6">g</tspan><tspan x="-1765.1" y="92" font-size="73">)</tspan></text><g class="m"><rect x="-2214.68" y="86.32" width="15.92" height="10.28"/><rect x="-2192.04" y="86.32" width="15.33" height="10.28"/></g></g>
</g>
</g>
</svg>
</body>
</html>
